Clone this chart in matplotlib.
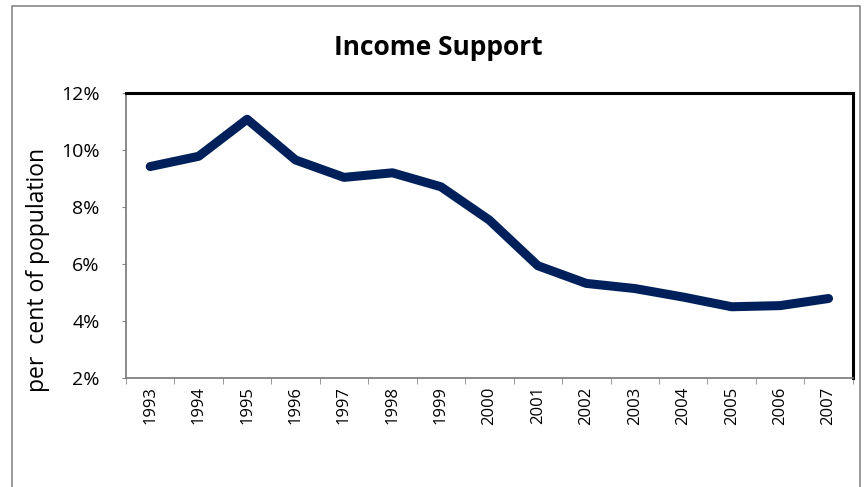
import matplotlib
matplotlib.use("Agg")
import matplotlib.pyplot as plt
from matplotlib.patches import Rectangle

years = ["1993", "1994", "1995", "1996", "1997", "1998", "1999", "2000",
         "2001", "2002", "2003", "2004", "2005", "2006", "2007"]
share = [9.42, 9.78, 11.08, 9.65, 9.04, 9.2, 8.71, 7.54,
         5.94, 5.32, 5.14, 4.84, 4.5, 4.54, 4.79]
yticks = [2, 4, 6, 8, 10, 12]

plt.rcParams["font.family"] = ["Open Sans", "DejaVu Sans"]

fig = plt.figure(figsize=(8.64, 4.87), dpi=100)
ax = fig.add_axes([0.1458, 0.2238, 0.987 - 0.1458, 0.809 - 0.2238])

x = list(range(len(years)))
ax.plot(x, share, color="#00205B", lw=6.5, solid_capstyle="round", solid_joinstyle="round")

ax.set_xlim(-0.5, len(years) - 0.5)
ax.set_ylim(2, 12)
ax.set_yticks(yticks)
ax.set_yticklabels([f"{v}%" for v in yticks], fontsize=14)
ax.set_xticks(x)
ax.set_xticklabels(years, rotation=90, fontsize=12)
ax.set_xticks([i - 0.5 for i in range(len(years) + 1)], minor=True)
ax.tick_params(axis="x", which="major", length=0, pad=6)
ax.tick_params(axis="x", which="minor", length=4, color="#888888", direction="out")
ax.tick_params(axis="y", length=3, color="#888888", direction="out", pad=16)

for s in ("top", "right"):
    ax.spines[s].set_color("black")
    ax.spines[s].set_linewidth(2.2)
for s in ("left", "bottom"):
    ax.spines[s].set_color("#777777")
    ax.spines[s].set_linewidth(1.2)

ax.set_ylabel("per  cent of population", fontsize=16.5)
ax.yaxis.set_label_coords(-0.105, 0.38)

fig.text(0.507, 0.903, "Income Support", ha="center", va="center",
         fontsize=19, fontweight="bold")

# outer chart border (left, top, right only)
fig.add_artist(Rectangle((12 / 864, -0.05), (860 - 12) / 864, 1.05 - 6 / 487,
                         transform=fig.transFigure, fill=False,
                         ec="#888888", lw=1.2))

fig.savefig("out.png", dpi=100)
